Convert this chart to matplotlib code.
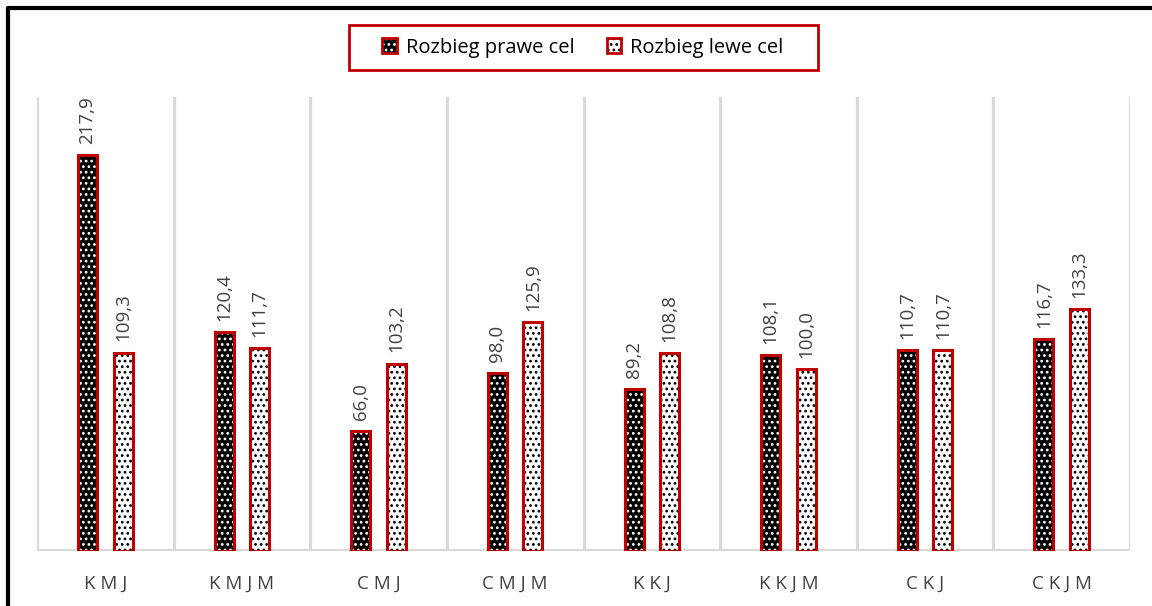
import matplotlib.pyplot as plt
import numpy as np
from matplotlib.patches import Patch, Rectangle
from matplotlib.lines import Line2D

categories = ['K M J', 'K M J M', 'C M J', 'C M J M', 'K K J', 'K K J M', 'C K J', 'C K J M']
prawe = [217.9, 120.4, 66.0, 98.0, 89.2, 108.1, 110.7, 116.7]
lewe = [109.3, 111.7, 103.2, 125.9, 108.8, 100.0, 110.7, 133.3]
series_names = ['Rozbieg prawe cel', 'Rozbieg lewe cel']

RED = '#c00000'
GRID = '#d9d9d9'
TXT = '#404040'

plt.rcParams['font.family'] = ['Open Sans', 'DejaVu Sans']
plt.rcParams['hatch.linewidth'] = 1.2

W, H = 1152, 606
fig = plt.figure(figsize=(W/100, H/100), dpi=100)
ax = fig.add_axes([37/W, 1-551/H, (1130-37)/W, (551-97)/H])

x = np.arange(len(categories))
off = 0.13
w = 0.139

def hatched_bars(xs, vals, face, dots):
	# patterned fill first, red outline on top
	ax.bar(xs, vals, w, color=face, hatch='...', edgecolor=dots, linewidth=0, zorder=2)
	ax.bar(xs, vals, w, fill=False, edgecolor=RED, linewidth=2.2, zorder=3)
	for xi, v in zip(xs, vals):
		ax.annotate(f'{v:.1f}'.replace('.', ','), (xi, v), xytext=(0, 8), textcoords='offset points',
			rotation=90, ha='center', va='bottom', fontsize=13.5, color=TXT)

hatched_bars(x - off, prawe, 'black', 'white')
hatched_bars(x + off, lewe, 'white', 'black')

ax.set_xlim(-0.5, len(categories) - 0.5)
ax.set_ylim(0, 250)
for b in np.arange(len(categories) + 1) - 0.5:
	ax.axvline(b, color=GRID, linewidth=2.2, zorder=1)
ax.axhline(0, color=GRID, linewidth=3, zorder=1)

for s in ax.spines.values():
	s.set_visible(False)
ax.set_yticks([])
ax.set_xticks(x)
ax.set_xticklabels(categories, fontsize=13.5, color=TXT)
ax.tick_params(axis='x', length=0, pad=17)

# legend box drawn separately, legend itself without frame
fig.add_artist(Rectangle((349/W, 1-70/H), (818-349)/W, 45/H, fill=False, edgecolor=RED,
	linewidth=2, transform=fig.transFigure))
h1 = (Patch(facecolor='black', hatch='...', edgecolor='white', linewidth=0), Patch(fill=False, edgecolor=RED, linewidth=2))
h2 = (Patch(facecolor='white', hatch='...', edgecolor='black', linewidth=0), Patch(fill=False, edgecolor=RED, linewidth=2))
leg = fig.legend([h1, h2], series_names, loc='center', bbox_to_anchor=(583/W, 1-47.5/H),
	ncol=2, fontsize=14.5, frameon=False, handlelength=0.72, handleheight=0.72,
	handletextpad=0.45, columnspacing=1.6, borderaxespad=0)

# outer frame on the left and top
fx = 8/W
fy = 1 - 8/H
fig.add_artist(Line2D([fx, fx, 1.01], [-0.01, fy, fy], color='black', linewidth=3, transform=fig.transFigure))

fig.savefig('out.png', dpi=100)
